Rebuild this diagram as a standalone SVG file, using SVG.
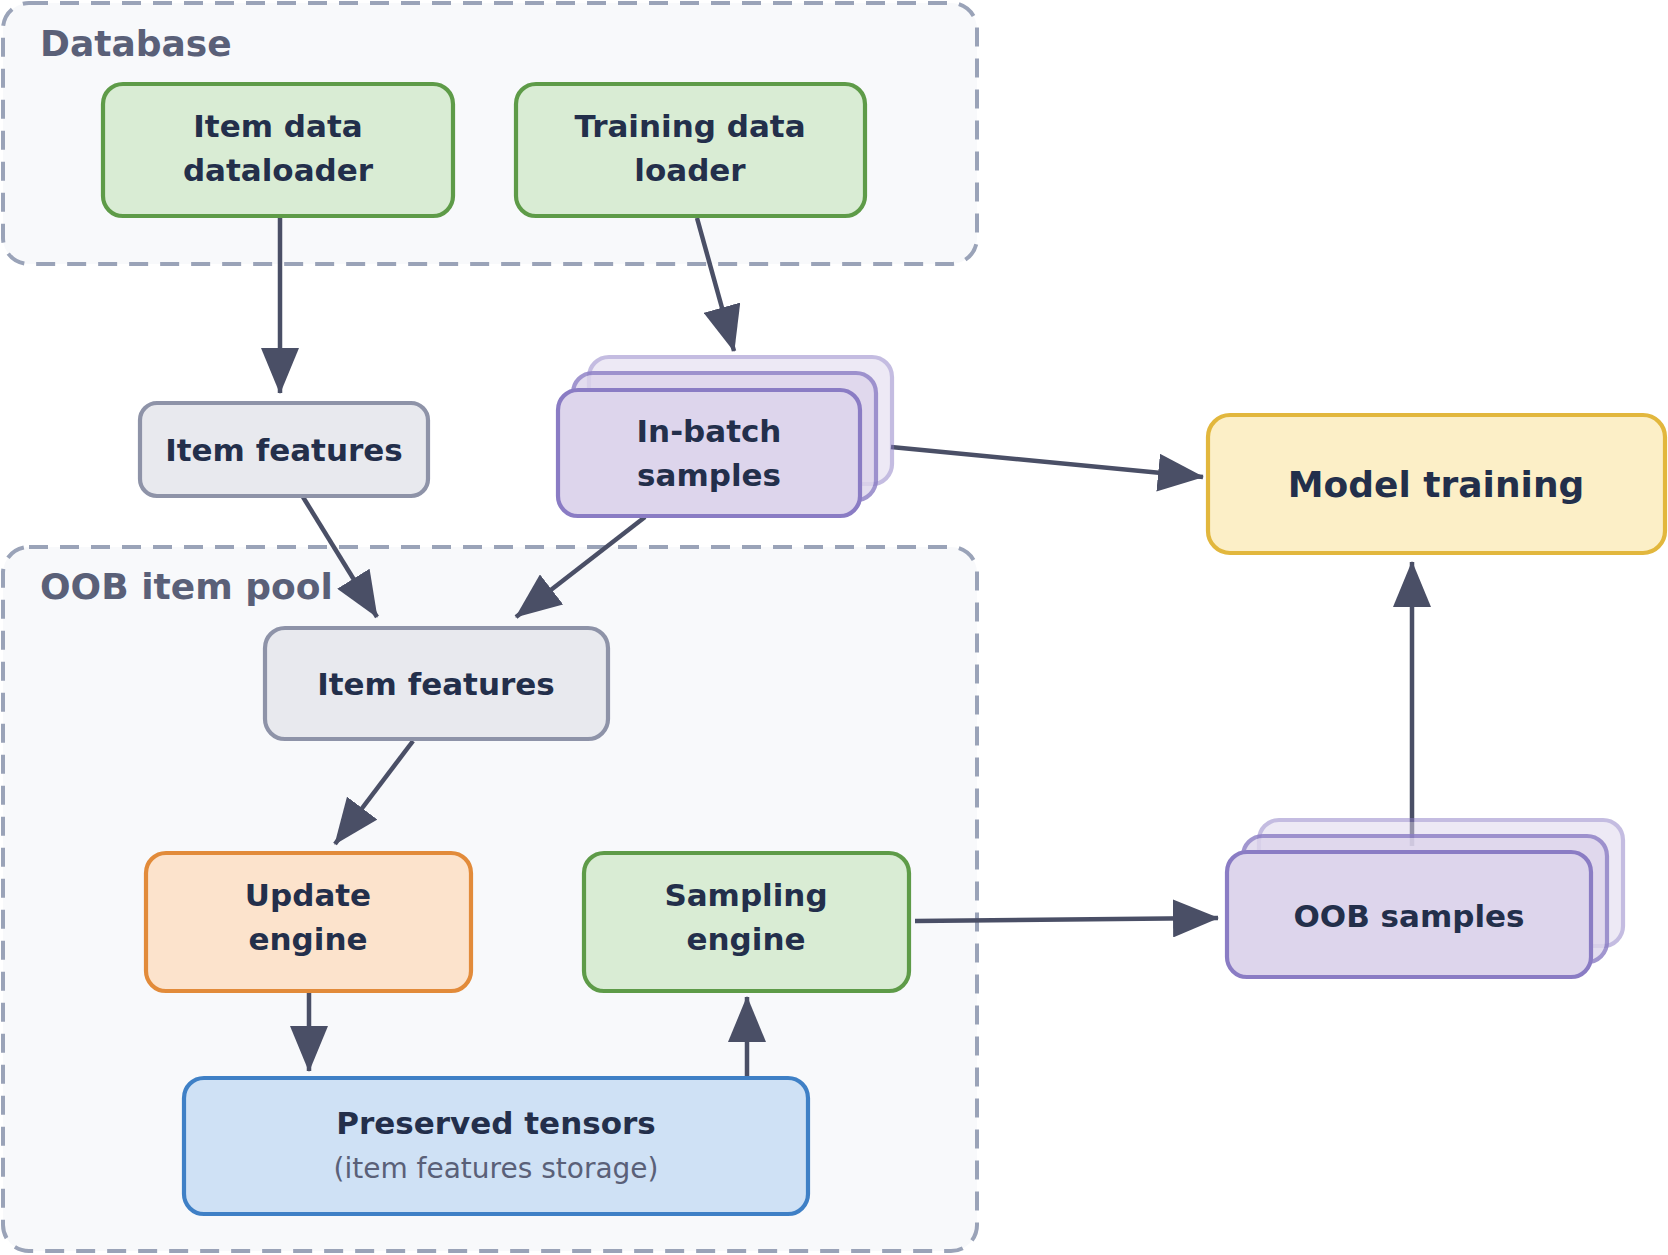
<svg xmlns="http://www.w3.org/2000/svg" width="1668" height="1255" viewBox="0 0 1668 1255">
<style>
.cont{fill:#f8f9fb;stroke:#9aa3b8;stroke-width:4;stroke-dasharray:19 12}
.glabel{font-family:"DejaVu Sans","Liberation Sans",sans-serif;font-weight:bold;font-size:36px;fill:#5a6078}
.t{font-family:"DejaVu Sans","Liberation Sans",sans-serif;font-weight:bold;font-size:31px;fill:#232f4b;text-anchor:middle}
.big{font-size:36px}
.sub{font-family:"DejaVu Sans","Liberation Sans",sans-serif;font-size:28px;fill:#5a6078;text-anchor:middle}
.box{stroke-width:4.2}
.green{fill:#d9ecd4;stroke:#5e9b48}
.gray{fill:#e8e9ee;stroke:#8e93a8}
.purple{fill:#ddd5ec;stroke:#8a7cc4}
.yellow{fill:#fcefc7;stroke:#e2b73d}
.orange{fill:#fce3cc;stroke:#e28b3a}
.blue{fill:#cfe1f5;stroke:#3f80c6}
.edge{fill:none;stroke:#4a4f66;stroke-width:4.5;marker-end:url(#arr)}
</style>
<defs>
<marker id="arr" markerUnits="userSpaceOnUse" markerWidth="46" markerHeight="38" viewBox="0 0 46 38" refX="45" refY="19" orient="auto">
<path d="M0,0 L46,19 L0,38 z" fill="#4a4f66"/>
</marker>
</defs>
<rect width="1668" height="1255" fill="#ffffff"/>
<g id="database">
<rect class="cont" x="3" y="3" width="974" height="261" rx="26"/>
<text class="glabel" x="40" y="56">Database</text>
</g>
<g id="oob-item-pool">
<rect class="cont" x="3" y="547" width="974" height="704" rx="26"/>
<text class="glabel" x="40" y="599">OOB item pool</text>
</g>
<g id="connectors">
<line class="edge" x1="280" y1="218" x2="280" y2="393"/>
<line class="edge" x1="697" y1="218" x2="734" y2="351"/>
<line class="edge" x1="891" y1="447" x2="1203" y2="477"/>
<line class="edge" x1="303" y1="497" x2="377" y2="617"/>
<line class="edge" x1="645" y1="517" x2="516" y2="617"/>
<line class="edge" x1="413" y1="741" x2="335" y2="844"/>
<line class="edge" x1="309" y1="992" x2="309" y2="1071"/>
<line class="edge" x1="747" y1="1078" x2="747" y2="997"/>
<line class="edge" x1="915" y1="921" x2="1218" y2="918"/>
<line class="edge" x1="1412" y1="846" x2="1412" y2="562"/>
</g>
<g id="item-data-dataloader">
<rect class="box green" x="103" y="84" width="350" height="132" rx="20"/>
<text class="t" x="278" y="137">Item data</text>
<text class="t" x="278" y="181">dataloader</text>
</g>
<g id="training-data-loader">
<rect class="box green" x="516" y="84" width="349" height="132" rx="20"/>
<text class="t" x="690" y="137">Training data</text>
<text class="t" x="690" y="181">loader</text>
</g>
<g id="item-features-top">
<rect class="box gray" x="140" y="403" width="288" height="93" rx="17"/>
<text class="t" x="284" y="461">Item features</text>
</g>
<g id="in-batch-samples">
<rect class="box purple" x="589" y="357" width="303" height="127" rx="20" opacity="0.5"/>
<rect class="box purple" x="573" y="373" width="303" height="127" rx="20" opacity="0.8"/>
<rect class="box purple" x="558" y="390" width="302" height="126" rx="20"/>
<text class="t" x="709" y="442">In-batch</text>
<text class="t" x="709" y="486">samples</text>
</g>
<g id="model-training">
<rect class="box yellow" x="1208" y="415" width="457" height="138" rx="22"/>
<text class="t big" x="1436" y="497">Model training</text>
</g>
<g id="item-features-pool">
<rect class="box gray" x="265" y="628" width="343" height="111" rx="20"/>
<text class="t" x="436" y="695">Item features</text>
</g>
<g id="update-engine">
<rect class="box orange" x="146" y="853" width="325" height="138" rx="20"/>
<text class="t" x="308" y="906">Update</text>
<text class="t" x="308" y="950">engine</text>
</g>
<g id="sampling-engine">
<rect class="box green" x="584" y="853" width="325" height="138" rx="20"/>
<text class="t" x="746" y="906">Sampling</text>
<text class="t" x="746" y="950">engine</text>
</g>
<g id="preserved-tensors">
<rect class="box blue" x="184" y="1078" width="624" height="136" rx="20"/>
<text class="t" x="496" y="1134">Preserved tensors</text>
<text class="sub" x="496" y="1178">(item features storage)</text>
</g>
<g id="oob-samples">
<rect class="box purple" x="1259" y="820" width="364" height="126" rx="20" opacity="0.5"/>
<rect class="box purple" x="1243" y="836" width="364" height="126" rx="20" opacity="0.8"/>
<rect class="box purple" x="1227" y="852" width="364" height="125" rx="20"/>
<text class="t" x="1409" y="927">OOB samples</text>
</g>
</svg>
